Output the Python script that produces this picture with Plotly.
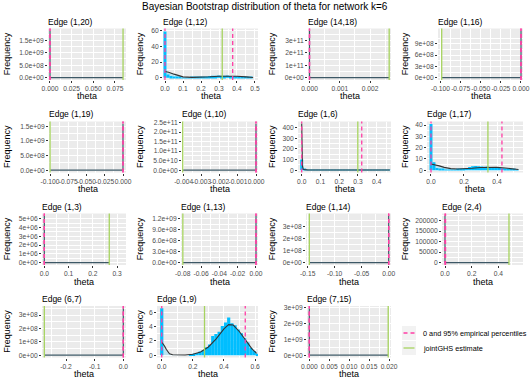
import plotly.graph_objects as go

W, H = 530, 384

# ---- data ---------------------------------------------------------------
edges = ["(1,20)", "(1,12)", "(14,18)", "(1,16)",
         "(1,19)", "(1,10)", "(1,6)", "(1,17)",
         "(1,3)", "(1,13)", "(1,14)", "(2,4)",
         "(6,7)", "(1,9)", "(7,15)"]

# 0 and 95% empirical percentiles
pct_lo = [0.0, 0.0, 0.0, 0.0,
          0.0, 0.0, 0.0, 0.0,
          0.0, 0.0, 0.0, 0.0,
          0.0, 0.0, 0.0]
pct_hi = [0.0, 0.376, 0.0, 0.0,
          0.0, 0.0, 0.32, 0.43,
          0.0, 0.0, 0.0, 0.004,
          0.0, 0.537, 0.0]
# jointGHS point estimate
joint_est = [0.0843, 0.318, 0.00263, -0.0985,
             -0.0999, -0.00405, 0.299, 0.345,
             0.268, -0.0799, -0.147, 0.479,
             -0.2757, 0.275, 0.0198]
# tallest value drawn in each panel (sets the y scale)
peak = [1.88e9, 60, 3.78e11, 1.24e9,
        1.58e9, 2.43e11, 437, 41.1,
        5.34e6, 1.28e9, 3.88e8, 2.22e5,
        3.5e8, 6.6, 2.94e9]

x_ranges = [[-0.0023, 0.0877], [-0.0111, 0.5167], [-0.00005, 0.00269], [-0.1031, 0.0025],
            [-0.1014, 0.0041], [-0.00409, 0.00011], [-0.0197, 0.476], [-0.0242, 0.5576],
            [-0.0095, 0.337], [-0.0819, 0.0022], [-0.1532, 0.0043], [-0.0225, 0.584],
            [-0.2838, 0.0094], [-0.0305, 0.619], [-0.00058, 0.0205]]

x_ticks = [[0, 0.025, 0.05, 0.075], [0, 0.1, 0.2, 0.3, 0.4, 0.5], [0, 0.001, 0.002],
           [-0.1, -0.075, -0.05, -0.025, 0],
           [-0.1, -0.075, -0.05, -0.025, 0], [-0.004, -0.003, -0.002, -0.001, 0],
           [0, 0.1, 0.2, 0.3, 0.4], [0, 0.2, 0.4],
           [0, 0.1, 0.2, 0.3], [-0.08, -0.06, -0.04, -0.02, 0], [-0.15, -0.1, -0.05, 0],
           [0, 0.2, 0.4],
           [-0.2, -0.1, 0], [0, 0.2, 0.4, 0.6], [0, 0.005, 0.01, 0.015, 0.02]]
x_labels = [["0.000", "0.025", "0.050", "0.075"], ["0.0", "0.1", "0.2", "0.3", "0.4", "0.5"],
            ["0.000", "0.001", "0.002"], ["-0.100", "-0.075", "-0.050", "-0.025", "0.000"],
            ["-0.100", "-0.075", "-0.050", "-0.025", "0.000"],
            ["-0.004", "-0.003", "-0.002", "-0.001", "0.000"],
            ["0.0", "0.1", "0.2", "0.3", "0.4"], ["0.0", "0.2", "0.4"],
            ["0.0", "0.1", "0.2", "0.3"], ["-0.08", "-0.06", "-0.04", "-0.02", "0.00"],
            ["-0.15", "-0.10", "-0.05", "0.00"], ["0.0", "0.2", "0.4"],
            ["-0.2", "-0.1", "0.0"], ["0.0", "0.2", "0.4", "0.6"],
            ["0.000", "0.005", "0.010", "0.015", "0.020"]]

y_ticks = [[0, 5e8, 1e9, 1.5e9], [0, 20, 40, 60], [0, 1e11, 2e11, 3e11], [0, 3e8, 6e8, 9e8],
           [0, 5e8, 1e9, 1.5e9], [0, 5e10, 1e11, 1.5e11, 2e11, 2.5e11],
           [0, 100, 200, 300, 400], [0, 10, 20, 30, 40],
           [0, 1e6, 2e6, 3e6, 4e6, 5e6], [0, 3e8, 6e8, 9e8, 1.2e9], [0, 1e8, 2e8, 3e8],
           [0, 50000, 100000, 150000, 200000],
           [0, 1e8, 2e8, 3e8], [0, 2, 4, 6], [0, 1e9, 2e9, 3e9]]
y_labels = [["0.0e+00", "5.0e+08", "1.0e+09", "1.5e+09"], ["0", "20", "40", "60"],
            ["0e+00", "1e+11", "2e+11", "3e+11"], ["0e+00", "3e+08", "6e+08", "9e+08"],
            ["0.0e+00", "5.0e+08", "1.0e+09", "1.5e+09"],
            ["0.0e+00", "5.0e+10", "1.0e+11", "1.5e+11", "2.0e+11", "2.5e+11"],
            ["0", "100", "200", "300", "400"], ["0", "10", "20", "30", "40"],
            ["0e+00", "1e+06", "2e+06", "3e+06", "4e+06", "5e+06"],
            ["0.0e+00", "3.0e+08", "6.0e+08", "9.0e+08", "1.2e+09"],
            ["0e+00", "1e+08", "2e+08", "3e+08"],
            ["0", "50000", "100000", "150000", "200000"],
            ["0e+00", "1e+08", "2e+08", "3e+08"], ["0", "2", "4", "6"],
            ["0e+00", "1e+09", "2e+09", "3e+09"]]

# histograms (bin heights, bins start centred on 0) for the non-degenerate edges
hist_1_12 = [59, 4, 2, 1, 0.5, 0.3, 0.2, 0.2, 0.2, 0.3, 0.4, 0.5, 0.8, 1.0, 1.5,
             2.0, 2.3, 2.5, 2.8, 2.5, 2.3, 2.8, 2.2, 2.0, 1.8, 1.5, 1.2, 0.8, 0.5, 0.3]
bw_1_12 = 0.0165
hist_1_6 = [100, 8, 3, 2, 2, 1, 1, 1, 1, 1, 1, 2, 2, 2, 3,
            3, 3, 3, 3, 4, 3, 3, 3, 2, 2, 2, 2, 2, 3, 4]
bw_1_6 = 0.016
hist_1_17 = [41, 7, 2, 1, 0.8, 0.6, 0.5, 0.5, 0.6, 0.8, 1.0, 1.5, 2.0, 2.8, 3.5,
             3.8, 3.5, 3.2, 3.0, 3.2, 2.8, 2.5, 2.2, 2.0, 1.8, 1.5, 1.2, 1.0, 0.8, 0.5]
bw_1_17 = 0.018
hist_1_9 = [6.6, 0, 0, 0, 0, 0, 0, 0, 0, 0.1, 0.2, 0.3, 0.5, 0.7, 1.1, 1.5,
            2.7, 3.0, 3.3, 4.1, 4.6, 5.3, 4.5, 4.2, 3.6, 3.1, 2.4, 1.8, 1.0, 0.6, 0.2]
bw_1_9 = 0.0205

# density curves
dens_1_12_x = [0, 0.02, 0.05, 0.08, 0.1, 0.15, 0.2, 0.25, 0.3, 0.35, 0.4, 0.45, 0.49]
dens_1_12_y = [8, 7, 4.5, 2, 1, 0.4, 0.5, 1.2, 1.9, 2.1, 1.8, 1.0, 0.3]
dens_1_6_x = [0, 0.002, 0.004, 0.008, 0.015, 0.03, 0.05, 0.1, 0.2, 0.3, 0.4, 0.47]
dens_1_6_y = [440, 150, 40, 10, 4, 3, 3, 2, 2.5, 3, 2.5, 2]
dens_1_17_x = [0, 0.02, 0.05, 0.08, 0.12, 0.16, 0.2, 0.25, 0.3, 0.35, 0.4, 0.45, 0.5, 0.53]
dens_1_17_y = [5.5, 5.0, 3.8, 2.5, 1.4, 1.0, 1.1, 1.7, 2.4, 2.7, 2.5, 1.9, 1.1, 0.6]
dens_1_9_x = [0, 0.01, 0.02, 0.03, 0.04, 0.05, 0.07, 0.1, 0.15, 0.2, 0.25, 0.3, 0.35,
              0.4, 0.43, 0.46, 0.5, 0.55, 0.58, 0.61]
dens_1_9_y = [1.85, 1.6, 1.2, 0.8, 0.45, 0.2, 0.05, 0.02, 0.02, 0.12, 0.45, 1.15, 2.3,
              3.7, 4.3, 4.25, 3.3, 1.8, 0.9, 0.25]

hist = {1: (hist_1_12, bw_1_12, dens_1_12_x, dens_1_12_y),
        6: (hist_1_6, bw_1_6, dens_1_6_x, dens_1_6_y),
        7: (hist_1_17, bw_1_17, dens_1_17_x, dens_1_17_y),
        13: (hist_1_9, bw_1_9, dens_1_9_x, dens_1_9_y)}

# ---- layout (pixel boxes of the panels) ---------------------------------
panel_lr = [(48, 126), (163, 258), (308, 391), (438, 523),
            (49, 126), (182, 258), (298, 391), (427, 523),
            (42, 126), (181, 258), (306, 391), (442, 523),
            (42, 126), (157, 258), (307, 391)]
row_tb = [(28.5, 80), (121.5, 172.5), (213.5, 265), (306, 357.5)]
freq_x = [7, 140, 272, 405]

BLUE = "#00BFFF"
PINK = "#FF3EA5"
GREEN = "#A6D35F"
FONT = "Liberation Sans"


def minor_of(vals):
    step = vals[1] - vals[0]
    return [vals[0] - step / 2] + [v + step / 2 for v in vals]


fig = go.Figure()
layout = {}
shapes = []
annotations = []

for i, edge in enumerate(edges):
    s = "" if i == 0 else str(i + 1)
    row, col = divmod(i, 4)
    left, right = panel_lr[i]
    top, bottom = row_tb[row]
    xa, ya = "x" + s, "y" + s

    if i in hist:
        heights, bw, dx, dy = hist[i]
        centers = [k * bw for k in range(len(heights))]
        fig.add_trace(go.Bar(x=centers, y=heights, width=bw, xaxis=xa, yaxis=ya,
                             marker=dict(color=BLUE, line_width=0), showlegend=False))
        fig.add_trace(go.Scatter(x=dx, y=dy, mode="lines", xaxis=xa, yaxis=ya,
                                 line=dict(color="#333333", width=1.1),
                                 fill="tozeroy", fillcolor="rgba(0,191,255,0.2)",
                                 showlegend=False))
    else:
        lo, hi = min(0.0, joint_est[i]), max(0.0, joint_est[i])
        fig.add_trace(go.Scatter(x=[lo, 0, 0, 0, hi], y=[0, 0, peak[i], 0, 0],
                                 mode="lines", xaxis=xa, yaxis=ya,
                                 line=dict(color="#3D5866", width=1.2),
                                 showlegend=False))

    # reference lines
    shapes.append(dict(type="line", xref=xa, yref=ya + " domain", x0=joint_est[i],
                       x1=joint_est[i], y0=0, y1=1, line=dict(color=GREEN, width=1.3)))
    for v in (pct_lo[i], pct_hi[i]):
        shapes.append(dict(type="line", xref=xa, yref=ya + " domain", x0=v, x1=v,
                           y0=0, y1=1, line=dict(color=PINK, width=1.3, dash="4px,3px")))

    common = dict(showline=False, zeroline=False, ticks="outside", ticklen=2,
                  tickwidth=0.7, tickcolor="#333333", tickangle=0,
                  tickfont=dict(family=FONT, size=6.7, color="#4D4D4D"),
                  showgrid=True, gridcolor="white", gridwidth=0.9, automargin=False)
    layout["xaxis" + s] = dict(
        domain=[left / W, right / W], range=x_ranges[i], anchor=ya,
        tickmode="array", tickvals=x_ticks[i], ticktext=x_labels[i],
        minor=dict(tickmode="array", tickvals=minor_of(x_ticks[i]), showgrid=True,
                   gridcolor="white", gridwidth=0.45, ticks=""),
        **common)
    layout["yaxis" + s] = dict(
        domain=[1 - bottom / H, 1 - top / H], range=[-0.05 * peak[i], 1.05 * peak[i]],
        anchor=xa, tickmode="array", tickvals=y_ticks[i], ticktext=y_labels[i],
        minor=dict(tickmode="array", tickvals=minor_of(y_ticks[i]), showgrid=True,
                   gridcolor="white", gridwidth=0.45, ticks=""),
        **common)

    # titles
    annotations.append(dict(text="Edge " + edge, x=(left - 2) / W, y=1 - (top - 7) / H,
                            xref="paper", yref="paper", xanchor="left", yanchor="middle",
                            showarrow=False, font=dict(family=FONT, size=8.5, color="black")))
    annotations.append(dict(text="theta", x=(left + right) / 2 / W, y=1 - (bottom + 16.5) / H,
                            xref="paper", yref="paper", xanchor="center", yanchor="middle",
                            showarrow=False, font=dict(family=FONT, size=9, color="black")))
    annotations.append(dict(text="Frequency", x=freq_x[col] / W, y=1 - (top + bottom) / 2 / H,
                            xref="paper", yref="paper", xanchor="center", yanchor="middle",
                            textangle=-90, showarrow=False,
                            font=dict(family=FONT, size=9, color="black")))

# main title
annotations.append(dict(text="Bayesian Bootstrap distribution of theta for network k=6",
                        x=0.5, y=1 - 7 / H, xref="paper", yref="paper",
                        xanchor="center", yanchor="middle", showarrow=False,
                        font=dict(family=FONT, size=10, color="black")))

# legend (drawn by hand, ggplot-style keys)
legend_items = [("0 and 95% empirical percentiles", PINK, "4px,3px"),
                ("jointGHS estimate", GREEN, "solid")]
for k, (label, color, dash) in enumerate(legend_items):
    y0 = 326 + 15 * k
    shapes.append(dict(type="rect", xref="paper", yref="paper", x0=402 / W, x1=416 / W,
                       y0=1 - (y0 + 14) / H, y1=1 - y0 / H, fillcolor="#F2F2F2",
                       line=dict(width=0)))
    shapes.append(dict(type="line", xref="paper", yref="paper", x0=403.5 / W, x1=414.5 / W,
                       y0=1 - (y0 + 7) / H, y1=1 - (y0 + 7) / H,
                       line=dict(color=color, width=1.3, dash=dash)))
    annotations.append(dict(text=label, x=421 / W, y=1 - (y0 + 7) / H, xref="paper",
                            yref="paper", xanchor="left", yanchor="middle", showarrow=False,
                            font=dict(family=FONT, size=7.3, color="black")))

fig.update_layout(**layout)
fig.update_layout(
    template="none", width=W, height=H, margin=dict(l=0, r=0, t=0, b=0),
    plot_bgcolor="#EBEBEB", paper_bgcolor="white", showlegend=False,
    shapes=shapes, annotations=annotations, font=dict(family=FONT),
)

# the page body has a default margin; drop it so the figure sits at (0, 0)
fig.write_html("out.html", config={"displayModeBar": False},
               post_script="document.body.style.margin='0px';"
                           "document.body.style.overflow='hidden';")
